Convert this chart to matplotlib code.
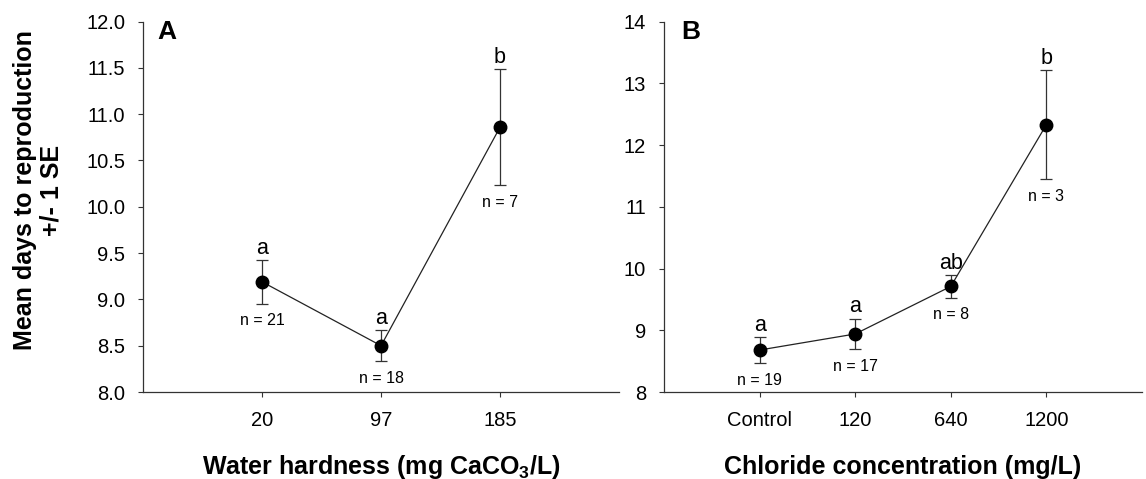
import matplotlib
matplotlib.use("Agg")
import matplotlib.pyplot as plt

plt.rcParams['font.family'] = ['Liberation Sans', 'DejaVu Sans']
plt.rcParams['mathtext.fontset'] = 'custom'
plt.rcParams['mathtext.bf'] = 'Liberation Sans:bold'
plt.rcParams['mathtext.rm'] = 'Liberation Sans'

# panel A - water hardness
hard_labels = ["20", "97", "185"]
hard_mean = [9.19, 8.50, 10.86]
hard_se = [0.235, 0.165, 0.63]
hard_letters = ["a", "a", "b"]
hard_n = ["n = 21", "n = 18", "n = 7"]

# panel B - chloride
chl_labels = ["Control", "120", "640", "1200"]
chl_mean = [8.68, 8.94, 9.71, 12.33]
chl_se = [0.21, 0.25, 0.18, 0.88]
chl_letters = ["a", "a", "ab", "b"]
chl_n = ["n = 19", "n = 17", "n = 8", "n = 3"]

fig = plt.figure(figsize=(11.46, 4.79), dpi=100)
axA = fig.add_axes([0.1248, 0.1816, 0.4154, 0.7734])
axB = fig.add_axes([0.5794, 0.1816, 0.4171, 0.7734])


def draw(ax, labels, mean, se, letters, nlab, panel, px):
    xs = list(range(1, len(labels) + 1))
    ax.errorbar(xs, mean, yerr=se, fmt='o', color='black', ms=9,
                ecolor='#333333', elinewidth=0.9, capsize=4.5, capthick=0.9,
                zorder=3)
    ax.plot(xs, mean, color='#222222', lw=0.9, zorder=2)
    for x, m, s, let, n in zip(xs, mean, se, letters, nlab):
        ax.annotate(let, (x, m + s), xytext=(0, 4.5), textcoords='offset points',
                    ha='center', va='baseline', fontsize=15.5)
        ax.annotate(n, (x, m - s), xytext=(0, -7), textcoords='offset points',
                    ha='center', va='top', fontsize=11.5)
    ax.set_xlim(0, len(labels) + 1)
    ax.set_xticks(xs)
    ax.set_xticklabels(labels)
    for sp in ['top', 'right']:
        ax.spines[sp].set_visible(False)
    for sp in ['left', 'bottom']:
        ax.spines[sp].set_linewidth(0.9)
        ax.spines[sp].set_color('#333333')
    ax.tick_params(axis='both', direction='out', length=3.8, width=0.8,
                   labelsize=14.5, color='#333333')
    ax.tick_params(axis='x', pad=10)
    ax.tick_params(axis='y', pad=9)
    ax.text(px, 1.005, panel, transform=ax.transAxes, fontsize=19,
            fontweight='bold', ha='left', va='top')


draw(axA, hard_labels, hard_mean, hard_se, hard_letters, hard_n, "A", 0.031)
axA.set_ylim(8.0, 12.0)
axA.set_yticks([8.0 + 0.5 * i for i in range(9)])
axA.set_yticklabels(["%.1f" % (8.0 + 0.5 * i) for i in range(9)])
axA.set_xlabel(r"Water hardness (mg CaCO$_\mathbf{3}$/L)", fontsize=18,
               fontweight='bold', va='baseline')
axA.xaxis.set_label_coords(0.5, (392 - 474) / 370.3)

draw(axB, chl_labels, chl_mean, chl_se, chl_letters, chl_n, "B", 0.036)
axB.set_ylim(8, 14)
axB.set_yticks(range(8, 15))
axB.set_xlabel("Chloride concentration (mg/L)", fontsize=18,
               fontweight='bold', va='baseline')
axB.xaxis.set_label_coords(0.5, (392 - 474) / 370.3)

fig.text(38.5 / 1146, 1 - 190 / 479, "Mean days to reproduction\n+/- 1 SE",
         rotation=90, ha='center', va='center', fontsize=18,
         fontweight='bold', linespacing=1.15)

fig.savefig("out.png", dpi=100)
